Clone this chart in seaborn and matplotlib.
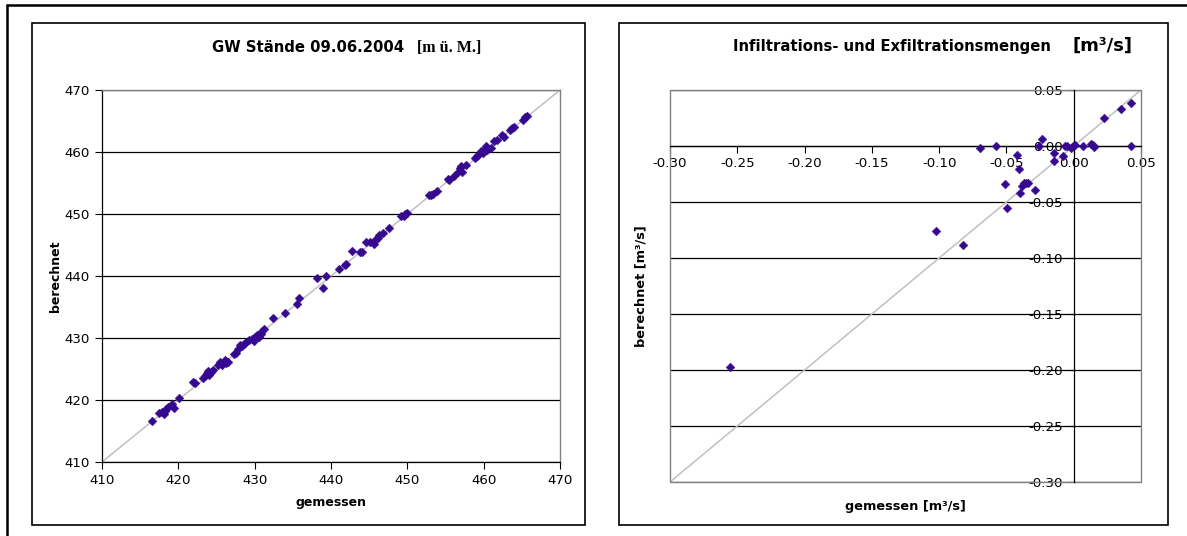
import numpy as np
import pandas as pd
import seaborn as sns
import matplotlib
matplotlib.use("Agg")
import matplotlib.pyplot as plt
from matplotlib.patches import Rectangle
from matplotlib.lines import Line2D

sns.set_style("white")
plt.rcParams["font.family"] = ["DejaVu Sans"]
plt.rcParams["axes.unicode_minus"] = False
plt.rcParams["text.color"] = "black"
plt.rcParams["axes.labelcolor"] = "black"
plt.rcParams["xtick.color"] = "black"
plt.rcParams["ytick.color"] = "black"

# --- groundwater levels, measured vs. computed [m ü. M.] ---
gw_gemessen = [416.5, 417.5, 417.8, 418.1, 418.2, 418.4, 418.7, 419.2, 419.4, 420.1,
               421.9, 422.2, 423.2, 423.5, 423.7, 423.9, 424.0, 424.3, 424.6, 425.2,
               425.4, 425.7, 425.9, 426.1, 426.3, 426.5, 427.3, 427.6, 427.8, 428.1,
               428.4, 428.6, 428.9, 429.3, 429.6, 429.9, 430.0, 430.3, 430.6, 430.8,
               431.0, 431.2, 432.4, 434.0, 435.6, 435.8, 438.2, 438.9, 439.3, 441.1,
               441.8, 442.0, 442.8, 443.8, 444.0, 444.6, 445.1, 445.6, 445.8, 446.1,
               446.3, 446.8, 447.6, 449.2, 449.5, 449.7, 449.9, 452.8, 453.1, 453.3,
               453.9, 455.3, 455.4, 456.1, 456.7, 456.9, 457.1, 457.0, 457.7, 458.9,
               459.1, 459.3, 459.6, 459.9, 460.1, 460.3, 460.5, 460.9, 461.4, 461.7,
               462.4, 462.6, 463.4, 463.7, 464.0, 465.1, 465.4, 465.7]
gw_berechnet = [416.6, 417.9, 418.1, 417.7, 418.3, 418.6, 418.9, 419.4, 418.7, 420.4,
                422.9, 422.8, 423.5, 423.8, 424.3, 424.6, 424.0, 424.5, 424.8, 425.6,
                426.2, 425.6, 426.0, 426.4, 425.9, 426.2, 427.4, 427.6, 428.3, 428.8,
                428.7, 429.1, 429.4, 429.6, 429.9, 429.5, 430.2, 430.5, 430.2, 430.7,
                431.2, 431.4, 433.2, 434.0, 435.5, 436.4, 439.7, 438.1, 440.0, 441.2,
                441.7, 441.9, 444.0, 443.8, 443.9, 445.5, 445.5, 445.2, 445.8, 446.2,
                446.6, 447.0, 447.8, 449.7, 449.7, 450.0, 450.2, 453.0, 453.1, 453.2,
                453.7, 455.7, 455.5, 456.1, 456.8, 457.4, 456.7, 457.8, 457.9, 459.0,
                459.3, 459.5, 460.1, 459.9, 460.3, 460.9, 460.4, 460.6, 461.8, 462.0,
                462.8, 462.4, 463.6, 463.8, 464.0, 465.2, 465.6, 465.8]

# --- infiltration / exfiltration rates, measured vs. computed [m³/s] ---
q_gemessen = [-0.0696, -0.0581, -0.0419, -0.0406, -0.0509, -0.0496, -0.0399, -0.0383,
              -0.0368, -0.0353, -0.0342, -0.0289, -0.0237, -0.0255, -0.0148, -0.0143,
              -0.0076, -0.0068, -0.0050, -0.0020, -0.0004, 0.0008, 0.0072, 0.0129,
              0.0142, 0.0154, 0.0223, 0.0354, 0.0428, 0.0423, -0.1023, -0.0824, -0.2557]
q_berechnet = [-0.0022, 0.0000, -0.0076, -0.0207, -0.0341, -0.0553, -0.0419, -0.0359,
               -0.0329, -0.0326, -0.0326, -0.0395, 0.0065, 0.0000, -0.0061, -0.0135,
               -0.0091, 0.0000, 0.0000, -0.0022, -0.0003, 0.0006, -0.0003, 0.0015,
               0.0006, -0.0009, 0.0247, 0.0330, 0.0387, 0.0000, -0.0762, -0.0887, -0.1970]

gw_ticks = [410, 420, 430, 440, 450, 460, 470]
q_ticks = [-0.30, -0.25, -0.20, -0.15, -0.10, -0.05, 0.00, 0.05]
q_ticklabels = ["-0.30", "-0.25", "-0.20", "-0.15", "-0.10", "-0.05", "0.00", "0.05"]
diag_gw = [410, 470]
diag_q = [-0.30, 0.05]

MARKER = "#36088f"
DIAG = "#c0c0c0"
BORDER = "#808080"
W, H = 1187, 536
TICK_FS = 9.6
TITLE_FS = 10.7

fig = plt.figure(figsize=(W / 100, H / 100), dpi=100)


def fx(px):
    return px / W


def fy(py):
    return 1 - py / H


# outer frame and chart boxes
fig.add_artist(Line2D([fx(7), fx(W + 5)], [fy(5), fy(5)], color="black", lw=1.8))
fig.add_artist(Line2D([fx(7), fx(7)], [fy(5), fy(H + 5)], color="black", lw=1.8))
for x0, x1 in [(32, 585), (619, 1168)]:
    fig.add_artist(Rectangle((fx(x0), fy(525)), fx(x1) - fx(x0), fy(23) - fy(525),
                             fill=False, edgecolor="black", lw=1.2))

# ---------- left chart ----------
ax1 = fig.add_axes([fx(102), fy(462), fx(560) - fx(102), fy(90) - fy(462)])
ax1.plot(diag_gw, diag_gw, color=DIAG, lw=1.1, zorder=2)
df_gw = pd.DataFrame({"gemessen": gw_gemessen, "berechnet": gw_berechnet})
sns.scatterplot(data=df_gw, x="gemessen", y="berechnet", marker="D", s=20,
                color=MARKER, edgecolor=MARKER, linewidth=0.3, ax=ax1, zorder=3)
ax1.set_xlim(410, 470)
ax1.set_ylim(410, 470)
ax1.set_xticks(gw_ticks)
ax1.set_yticks(gw_ticks)
ax1.yaxis.grid(True, color="black", lw=0.9)
ax1.set_axisbelow(True)
for s in ["left", "bottom"]:
    ax1.spines[s].set_color("black")
    ax1.spines[s].set_linewidth(0.9)
for s in ["top", "right"]:
    ax1.spines[s].set_color(BORDER)
    ax1.spines[s].set_linewidth(1.0)
ax1.tick_params(direction="out", length=5, width=0.8, color="black",
                labelsize=TICK_FS, pad=4, bottom=True, left=True)
ax1.set_xlabel("gemessen", fontsize=9.0, fontweight="bold")
ax1.set_ylabel("berechnet", fontsize=9.0, fontweight="bold", va="center")
ax1.xaxis.set_label_coords(0.5, -0.092)
ax1.yaxis.set_label_coords((55.5 - 102) / 458, 0.5)

fig.text(fx(308), fy(47), "GW Stände 09.06.2004", fontsize=TITLE_FS, fontweight="bold",
         ha="center", va="center")
fig.text(fx(449), fy(48), "[m ü. M.]", fontsize=11.5, fontweight="bold",
         family="Liberation Serif", ha="center", va="center")

# ---------- right chart ----------
ax2 = fig.add_axes([fx(670), fy(482), fx(1141) - fx(670), fy(90) - fy(482)])
ax2.plot(diag_q, diag_q, color=DIAG, lw=1.1, zorder=2)
df_q = pd.DataFrame({"gemessen": q_gemessen, "berechnet": q_berechnet})
sns.scatterplot(data=df_q, x="gemessen", y="berechnet", marker="D", s=20,
                color=MARKER, edgecolor=MARKER, linewidth=0.3, ax=ax2, zorder=3)
ax2.set_xlim(-0.30, 0.05)
ax2.set_ylim(-0.30, 0.05)
ax2.set_xticks(q_ticks)
ax2.set_xticklabels(q_ticklabels)
ax2.set_yticks(q_ticks)
ax2.set_yticklabels(q_ticklabels)
ax2.yaxis.grid(True, color="black", lw=0.9)
ax2.set_axisbelow(True)
ax2.spines["left"].set_position(("data", 0))
ax2.spines["bottom"].set_position(("data", 0))
for s in ["left", "bottom"]:
    ax2.spines[s].set_color("black")
    ax2.spines[s].set_linewidth(0.9)
    ax2.spines[s].set_zorder(2.5)
for s in ["top", "right"]:
    ax2.spines[s].set_visible(False)
ax2.add_patch(Rectangle((0, 0), 1, 1, transform=ax2.transAxes, fill=False,
                        edgecolor=BORDER, lw=1.0, zorder=2.4, clip_on=False))
ax2.tick_params(direction="out", length=5, width=0.8, color="black",
                labelsize=TICK_FS, pad=3, bottom=True, left=True)
ax2.set_xlabel("gemessen [m³/s]", fontsize=9.3, fontweight="bold")
ax2.set_ylabel("berechnet [m³/s]", fontsize=9.3, fontweight="bold", va="center")
ax2.xaxis.set_label_coords(0.5, -0.047)
ax2.yaxis.set_label_coords((641 - 670) / 471, 0.5)

fig.text(fx(892), fy(46), "Infiltrations- und Exfiltrationsmengen", fontsize=TITLE_FS,
         fontweight="bold", ha="center", va="center")
fig.text(fx(1102), fy(46), "[m³/s]", fontsize=13, fontweight="bold",
         ha="center", va="center")

fig.savefig("out.png", dpi=100)
